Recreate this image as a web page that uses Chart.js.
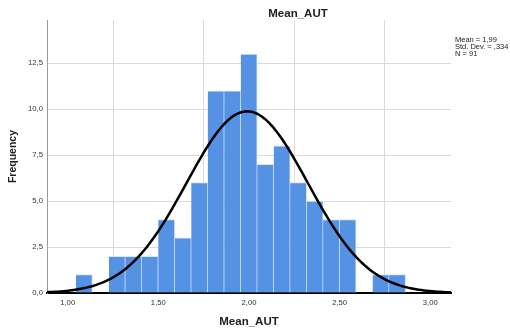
<!DOCTYPE html>
<html>
<head>
<meta charset="utf-8">
<script src="https://cdn.jsdelivr.net/npm/chart.js@4/dist/chart.umd.min.js"></script>
<style>
  html, body { margin: 0; padding: 0; background: #fff; }
</style>
</head>
<body>
<canvas id="myChart" width="510" height="333"></canvas>
<script>
// histogram bins (width 1/11) and counts
var binCenters = [1.0909, 1.1818, 1.2727, 1.3636, 1.4545, 1.5455, 1.6364, 1.7273, 1.8182, 1.9091,
                  2.0000, 2.0909, 2.1818, 2.2727, 2.3636, 2.4545, 2.5455, 2.6364, 2.7273, 2.8182];
var frequencies = [1, 0, 2, 2, 2, 4, 3, 6, 11, 11, 13, 7, 8, 6, 5, 4, 4, 0, 1, 1];
var xTicks = [1.0, 1.5, 2.0, 2.5, 3.0];
var yTicks = [0, 2.5, 5, 7.5, 10, 12.5];
var statLines = ["Mean = 1,99", "Std. Dev. = ,334", "N = 91"];

var mean = 1.99, sd = 0.334, n = 91, binWidth = 1 / 11;
var xMin = 0.886, xMax = 3.114;

// fitted normal curve, scaled to counts per bin
var curve = [];
for (var i = 0; i <= 150; i++) {
  var x = xMin + (xMax - xMin) * i / 150;
  var z = (x - mean) / sd;
  curve.push({x: x, y: n * binWidth * Math.exp(-0.5 * z * z) / (sd * Math.sqrt(2 * Math.PI))});
}

var bars = binCenters.map(function (c, i) { return {x: c, y: frequencies[i]}; });

var fontFam = "Arial, 'Liberation Sans', sans-serif";

var textPlugin = {
  id: "spssText",
  afterDraw: function (chart) {
    var ctx = chart.ctx;
    ctx.save();
    ctx.fillStyle = "#222";
    ctx.font = "bold 11.5px " + fontFam;
    ctx.textAlign = "center";
    ctx.textBaseline = "middle";
    ctx.fillText("Mean_AUT", 298, 14);
    ctx.font = "7.5px " + fontFam;
    ctx.textAlign = "left";
    statLines.forEach(function (t, i) {
      ctx.fillText(t, 455, 40 + i * 7);
    });
    ctx.restore();
  }
};

new Chart("myChart", {
  type: "bar",
  data: {
    datasets: [{
      type: "line",
      data: curve,
      borderColor: "#000",
      borderWidth: 2.5,
      pointRadius: 0,
      tension: 0,
      order: 0
    }, {
      type: "bar",
      data: bars,
      backgroundColor: "#5592e4",
      borderColor: "#dbe7f8",
      borderWidth: {top: 1, left: 0, right: 1, bottom: 0},
      barPercentage: 1,
      categoryPercentage: 1,
      order: 1
    }]
  },
  options: {
    responsive: false,
    devicePixelRatio: 1,
    animation: false,
    layout: {padding: {top: 20, right: 59, left: 0, bottom: 0}},
    plugins: {legend: {display: false}, tooltip: {enabled: false}},
    scales: {
      x: {
        type: "linear",
        min: xMin,
        max: xMax,
        offset: false,
        grid: {color: "#dadada", drawTicks: false},
        border: {color: "#000", width: 2},
        afterBuildTicks: function (s) { s.ticks = xTicks.map(function (v) { return {value: v}; }); },
        afterFit: function (s) { s.height = 40; },
        ticks: {
          font: {family: fontFam, size: 7.7},
          color: "#333",
          padding: 5,
          maxRotation: 0,
          callback: function (v) { return v.toFixed(2).replace(".", ","); }
        },
        title: {
          display: true,
          text: "Mean_AUT",
          color: "#222",
          font: {family: fontFam, size: 11.5, weight: "bold"},
          padding: {top: 4, bottom: 4.4}
        }
      },
      y: {
        min: 0,
        max: 14.85,
        grid: {color: "#dadada", drawTicks: false},
        border: {color: "#9a9a9a", width: 1},
        afterBuildTicks: function (s) { s.ticks = yTicks.map(function (v) { return {value: v}; }); },
        afterFit: function (s) { s.width = 47; },
        ticks: {
          font: {family: fontFam, size: 7.7},
          color: "#333",
          padding: 4,
          callback: function (v) { return v.toFixed(1).replace(".", ","); }
        },
        title: {
          display: true,
          text: "Frequency",
          color: "#222",
          font: {family: fontFam, size: 10.5, weight: "bold"},
          padding: {top: 7, bottom: 0}
        }
      }
    }
  },
  plugins: [textPlugin]
});
</script>
</body>
</html>
